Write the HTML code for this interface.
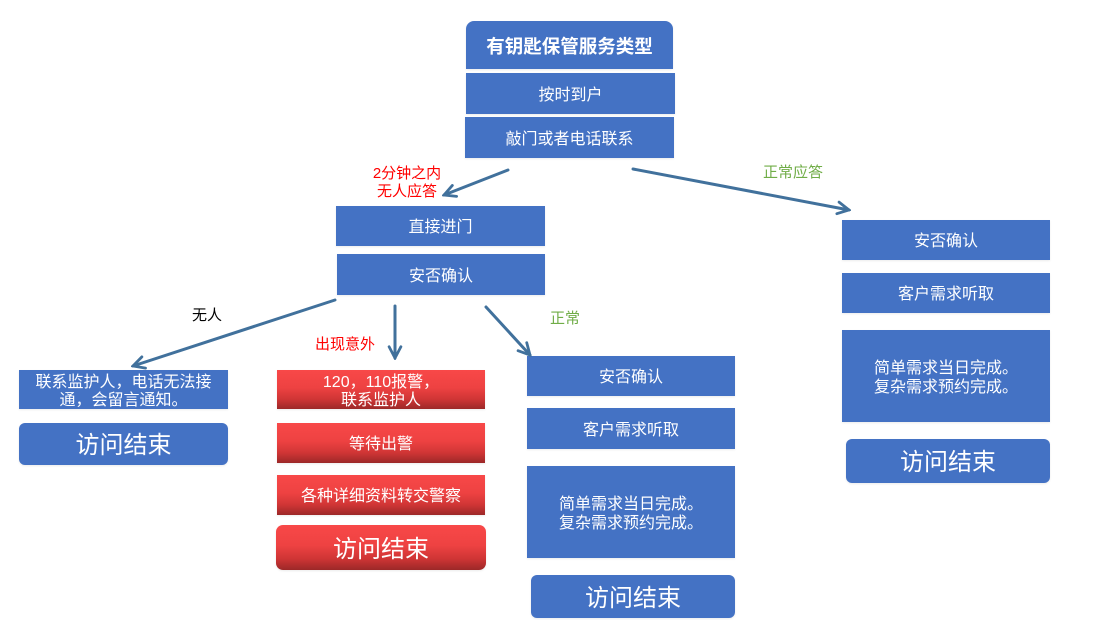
<!DOCTYPE html>
<html>
<head>
<meta charset="utf-8">
<style>
  html, body { margin:0; padding:0; background:#ffffff; }
  body { width:1102px; height:620px; position:relative; overflow:hidden;
         font-family:"Liberation Sans","Noto Sans CJK SC","WenQuanYi Zen Hei",sans-serif; }
  .b { position:absolute; background:#4472C4; color:#fff; display:flex; align-items:center;
       justify-content:center; text-align:center; font-size:16px; line-height:18.5px;
       box-sizing:border-box; padding-top:5px;
       box-shadow:0 1px 2px rgba(0,0,0,0.08); }
  .r { background:linear-gradient(to bottom,#f84848 0%,#ee4242 45%,#cf3535 75%,#9c2828 100%); }
  .end { font-size:24px; border-radius:6px; }
  .lab { position:absolute; font-size:15px; line-height:18px; white-space:nowrap; text-align:center; }
  svg { position:absolute; left:0; top:0; }
</style>
</head>
<body>

<!-- top column -->
<div class="b" style="left:466px;top:21px;width:207px;height:48px;border-radius:8px 8px 0 0;font-weight:bold;font-size:18.5px;">有钥匙保管服务类型</div>
<div class="b" style="left:466px;top:73px;width:209px;height:41px;">按时到户</div>
<div class="b" style="left:465px;top:117px;width:209px;height:41px;">敲门或者电话联系</div>

<!-- middle-left -->
<div class="b" style="left:336px;top:206px;width:209px;height:40px;">直接进门</div>
<div class="b" style="left:337px;top:254px;width:208px;height:41px;">安否确认</div>

<!-- left column -->
<div class="b" style="left:19px;top:370px;width:209px;height:39px;">联系监护人，电话无法接<br>通，会留言通知。</div>
<div class="b end" style="left:19px;top:423px;width:209px;height:42px;">访问结束</div>

<!-- red column -->
<div class="b r" style="left:277px;top:370px;width:208px;height:39px;">120，110报警，<br>联系监护人</div>
<div class="b r" style="left:277px;top:423px;width:208px;height:40px;">等待出警</div>
<div class="b r" style="left:277px;top:475px;width:208px;height:40px;">各种详细资料转交警察</div>
<div class="b r end" style="left:276px;top:525px;width:210px;height:45px;border-radius:7px;">访问结束</div>

<!-- middle column -->
<div class="b" style="left:527px;top:356px;width:208px;height:40px;">安否确认</div>
<div class="b" style="left:527px;top:408px;width:208px;height:41px;">客户需求听取</div>
<div class="b" style="left:527px;top:466px;width:208px;height:92px;">简单需求当日完成。<br>复杂需求预约完成。</div>
<div class="b end" style="left:531px;top:575px;width:204px;height:43px;">访问结束</div>

<!-- right column -->
<div class="b" style="left:842px;top:220px;width:208px;height:40px;">安否确认</div>
<div class="b" style="left:842px;top:273px;width:208px;height:40px;">客户需求听取</div>
<div class="b" style="left:842px;top:330px;width:208px;height:92px;">简单需求当日完成。<br>复杂需求预约完成。</div>
<div class="b end" style="left:846px;top:439px;width:204px;height:44px;">访问结束</div>

<!-- labels -->
<div class="lab" style="left:357px;top:165px;width:100px;color:#ff0000;">2分钟之内<br>无人应答</div>
<div class="lab" style="left:743px;top:164px;width:100px;color:#70AD47;">正常应答</div>
<div class="lab" style="left:167px;top:307px;width:80px;color:#000;">无人</div>
<div class="lab" style="left:295px;top:336px;width:100px;color:#ff0000;">出现意外</div>
<div class="lab" style="left:525px;top:310px;width:80px;color:#70AD47;">正常</div>

<!-- arrows -->
<svg width="1102" height="620" viewBox="0 0 1102 620">
  <defs>
    <marker id="ah" viewBox="0 0 14 14" refX="12" refY="7" markerWidth="15" markerHeight="15" markerUnits="userSpaceOnUse" orient="auto">
      <path d="M1.5,1.5 L12,7 L1.5,12.5" fill="none" stroke="#41719C" stroke-width="2.6" stroke-linecap="round" stroke-linejoin="miter"/>
    </marker>
  </defs>
  <g stroke="#41719C" stroke-width="3" fill="none" stroke-linecap="round">
    <line x1="508" y1="170" x2="444" y2="195" marker-end="url(#ah)"/>
    <line x1="633" y1="169" x2="849" y2="210" marker-end="url(#ah)"/>
    <line x1="335" y1="300" x2="133" y2="366" marker-end="url(#ah)"/>
    <line x1="395" y1="306" x2="395" y2="358" marker-end="url(#ah)"/>
    <line x1="486" y1="307" x2="530" y2="355" marker-end="url(#ah)"/>
  </g>
</svg>

</body>
</html>
